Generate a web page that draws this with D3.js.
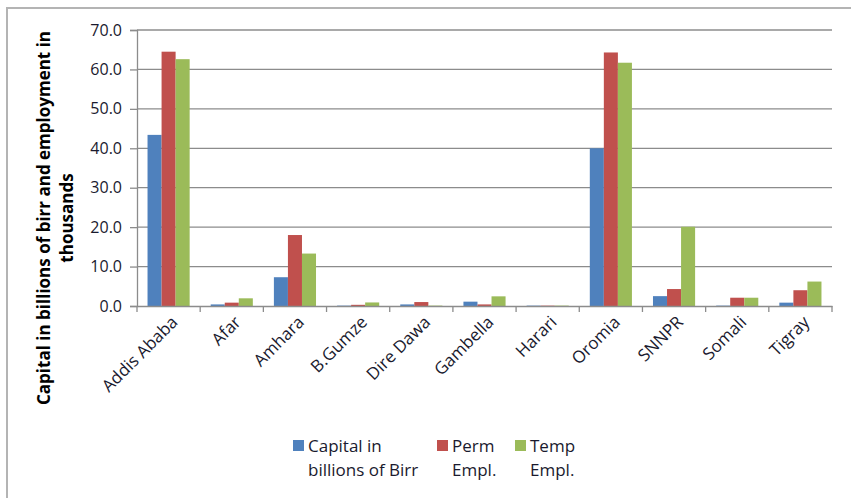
<!DOCTYPE html>
<html>
<head>
<meta charset="utf-8">
<script src="https://cdn.jsdelivr.net/npm/d3@7/dist/d3.min.js"></script>
<style>
  html, body { margin: 0; padding: 0; background: #fff; }
  svg { display: block; font-family: "Open Sans", "DejaVu Sans", sans-serif; }
</style>
</head>
<body>
<svg id="chart" width="851" height="498"></svg>
<script>
// Regions on the x axis
var regions = ["Addis Ababa", "Afar", "Amhara", "B.Gumze", "Dire Dawa", "Gambella",
               "Harari", "Oromia", "SNNPR", "Somali", "Tigray"];

// Series values
var capital  = [43.4, 0.4, 7.3, 0.1, 0.4, 1.1, 0.1, 40.0, 2.5, 0.1, 0.85];
var permEmpl = [64.5, 0.85, 18.0, 0.3, 1.0, 0.4, 0.1, 64.3, 4.3, 2.1, 4.0];
var tempEmpl = [62.6, 1.95, 13.3, 0.9, 0.1, 2.45, 0.1, 61.7, 20.1, 2.1, 6.2];

var seriesNames  = [["Capital in", "billions of Birr"], ["Perm", "Empl."], ["Temp", "Empl."]];
var seriesColors = ["#4F81BD", "#C0504D", "#9BBB59"];

var yTicks = [0, 10, 20, 30, 40, 50, 60, 70];

var yTitle = ["Capital in billions of birr and employment in", "thousands"];

var svg = d3.select("#chart");

// outer frame (cut at right and bottom like the picture)
svg.append("rect")
  .attr("x", 7).attr("y", 8)
  .attr("width", 900).attr("height", 600)
  .attr("fill", "none")
  .attr("stroke", "#b4b4b4")
  .attr("stroke-width", 2);

var plot = { left: 137, right: 832, top: 30, bottom: 306 };

// one slot per region, 3 bars + 150% gap
var slot = d3.scaleBand().domain(regions).range([plot.left, plot.right]);
var barW = slot.bandwidth() / 4.5;

var y = d3.scaleLinear().domain([0, 70]).range([plot.bottom, plot.top]);

// gridlines
svg.append("g")
  .selectAll("line")
  .data(yTicks.slice(1))
  .enter().append("line")
  .attr("x1", plot.left).attr("x2", plot.right)
  .attr("y1", function(d) { return y(d); })
  .attr("y2", function(d) { return y(d); })
  .attr("stroke", "#8c8c8c")
  .attr("stroke-width", 1.3);

// bars
var series = [capital, permEmpl, tempEmpl];
series.forEach(function(vals, si) {
  svg.append("g")
    .selectAll("rect")
    .data(vals)
    .enter().append("rect")
    .attr("x", function(d, i) { return slot(regions[i]) + barW * 0.75 + si * barW; })
    .attr("y", function(d) { return y(d); })
    .attr("width", barW)
    .attr("height", function(d) { return y(0) - y(d); })
    .attr("fill", seriesColors[si]);
});

// y axis
var yAxis = d3.axisLeft(y)
  .tickValues(yTicks)
  .tickSize(7)
  .tickPadding(8)
  .tickFormat(d3.format(".1f"));

var gy = svg.append("g")
  .attr("transform", "translate(" + plot.left + ",0)")
  .call(yAxis);
gy.select(".domain").attr("stroke", "#8c8c8c").attr("stroke-width", 1.3);
gy.selectAll(".tick line").attr("stroke", "#8c8c8c").attr("stroke-width", 1.3);
gy.selectAll(".tick text")
  .attr("font-size", 16)
  .attr("font-family", "'Open Sans', sans-serif")
  .attr("fill", "#1a1a2e");

// x axis
var xAxis = d3.axisBottom(slot).tickSize(0).tickFormat("");
var gx = svg.append("g")
  .attr("transform", "translate(0," + plot.bottom + ")")
  .call(xAxis);
gx.select(".domain").attr("stroke", "#8c8c8c").attr("stroke-width", 1.3);
gx.selectAll(".tick").remove();

// x tick marks at slot boundaries
svg.append("g")
  .selectAll("line")
  .data(regions.concat(["end"]))
  .enter().append("line")
  .attr("x1", function(d, i) { return plot.left + i * slot.step(); })
  .attr("x2", function(d, i) { return plot.left + i * slot.step(); })
  .attr("y1", plot.bottom)
  .attr("y2", plot.bottom + 6)
  .attr("stroke", "#8c8c8c")
  .attr("stroke-width", 1.3);

// rotated category labels
svg.append("g")
  .selectAll("text")
  .data(regions)
  .enter().append("text")
  .attr("transform", function(d) {
    var cx = slot(d) + slot.bandwidth() / 2 + 6;
    return "translate(" + cx + "," + (plot.bottom + 13) + ") rotate(-45)";
  })
  .attr("text-anchor", "end")
  .attr("dy", "0.35em")
  .attr("font-size", 17)
  .attr("fill", "#1a1a2e")
  .text(function(d) { return d; });

// y axis title
var titleCy = 218;
svg.append("text")
  .attr("transform", "translate(44," + titleCy + ") rotate(-90)")
  .attr("text-anchor", "middle")
  .attr("dy", "0.35em")
  .attr("font-size", 17)
  .attr("font-weight", "bold")
  .attr("fill", "#000")
  .text(yTitle[0]);
svg.append("text")
  .attr("transform", "translate(67," + titleCy + ") rotate(-90)")
  .attr("text-anchor", "middle")
  .attr("dy", "0.35em")
  .attr("font-size", 17)
  .attr("font-weight", "bold")
  .attr("fill", "#000")
  .text(yTitle[1]);

// legend
var legendX = [293, 437, 515];
var legend = svg.append("g");
seriesNames.forEach(function(lines, i) {
  legend.append("rect")
    .attr("x", legendX[i]).attr("y", 440)
    .attr("width", 11).attr("height", 11)
    .attr("fill", seriesColors[i]);
  lines.forEach(function(line, j) {
    legend.append("text")
      .attr("x", legendX[i] + 15)
      .attr("y", 452 + j * 24)
      .attr("font-size", 17)
      .attr("fill", "#1a1a2e")
      .text(line);
  });
});
</script>
</body>
</html>
